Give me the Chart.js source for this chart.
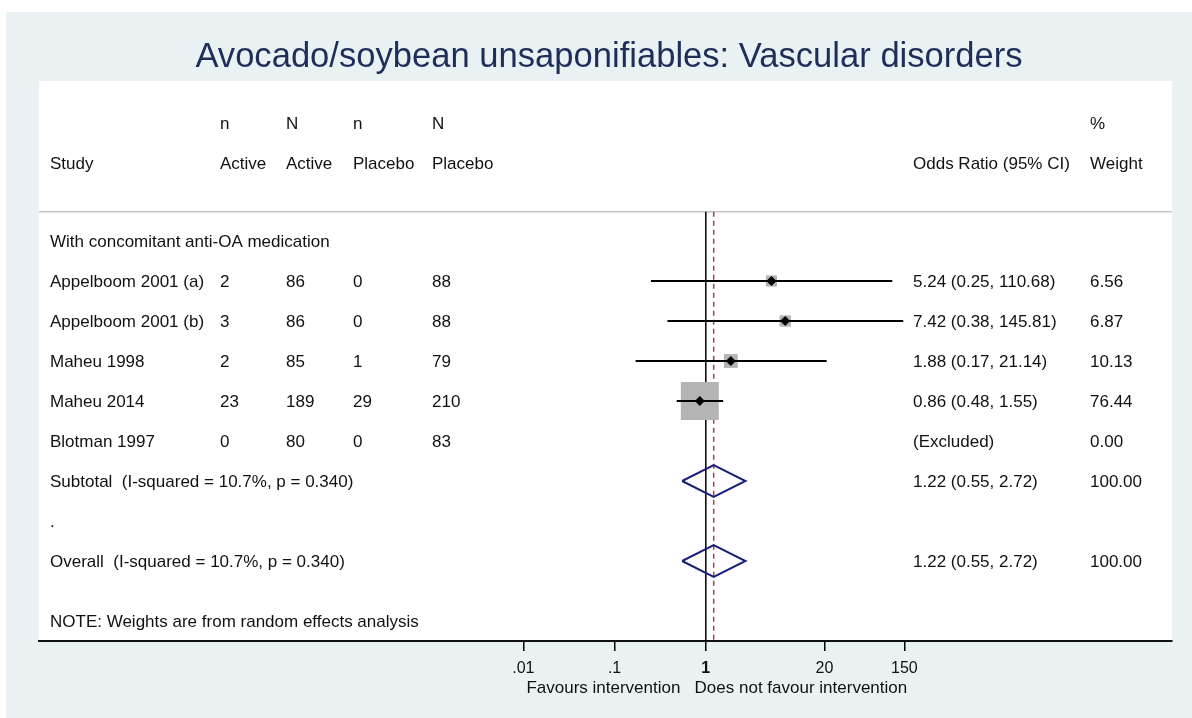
<!DOCTYPE html>
<html>
<head>
<meta charset="utf-8">
<script src="https://cdn.jsdelivr.net/npm/chart.js@4.4.1/dist/chart.umd.min.js"></script>
<style>
html, body { margin: 0; padding: 0; background: #fff; }
#wrap { width: 1192px; height: 718px; }
</style>
</head>
<body>
<div id="wrap"><canvas id="chart1"></canvas></div>
<script>
var title = "Avocado/soybean unsaponifiables: Vascular disorders";
var groupLabel = "With concomitant anti-OA medication";
var note = "NOTE: Weights are from random effects analysis";
var xTitle = "Favours intervention   Does not favour intervention";

var studies = ["Appelboom 2001 (a)", "Appelboom 2001 (b)", "Maheu 1998", "Maheu 2014", "Blotman 1997"];
var nActive = [2, 3, 2, 23, 0];
var bigNActive = [86, 86, 85, 189, 80];
var nPlacebo = [0, 0, 1, 29, 0];
var bigNPlacebo = [88, 88, 79, 210, 83];
var oddsRatio = [5.24, 7.42, 1.88, 0.86, null];
var ciLow = [0.25, 0.38, 0.17, 0.48, null];
var ciHigh = [110.68, 145.81, 21.14, 1.55, null];
var weights = [6.56, 6.87, 10.13, 76.44, 0.00];

var pooledLabels = ["Subtotal  (I-squared = 10.7%, p = 0.340)", "Overall  (I-squared = 10.7%, p = 0.340)"];
var pooledOR = [1.22, 1.22];
var pooledLow = [0.55, 0.55];
var pooledHigh = [2.72, 2.72];
var pooledWeight = [100.00, 100.00];

var tickValues = [0.01, 0.1, 1, 20, 150];
var tickLabels = [".01", ".1", "1", "20", "150"];

var headTop = ["", "n", "N", "n", "N", "", "%"];
var headBottom = ["Study", "Active", "Active", "Placebo", "Placebo", "Odds Ratio (95% CI)", "Weight"];

// row slots on the y scale (0 = top of plot panel)
var studyRows = [5, 6, 7, 8, 9];
var pooledRows = [10, 12];

var FONT = "'Liberation Sans', Arial, Helvetica, sans-serif";
var colX = [50, 220, 286, 353, 432, 913, 1090];
var diamondHalf = 0.4;
var lineTop = 3.27;

function fmt(v) { return v.toFixed(2); }

var datasets = [];

// null line and pooled estimate line
datasets.push({
    data: [{x: 1, y: lineTop}, {x: 1, y: 14}],
    showLine: true, borderColor: "#000", borderWidth: 1.5, pointRadius: 0, order: 10
});
datasets.push({
    data: [{x: pooledOR[1], y: lineTop}, {x: pooledOR[1], y: 14}],
    showLine: true, borderColor: "#a4404c", borderWidth: 1.5, borderDash: [5, 4], pointRadius: 0, order: 9
});

// weight boxes
var boxData = [];
studies.forEach(function (s, i) {
    if (oddsRatio[i] !== null) boxData.push({x: oddsRatio[i], y: studyRows[i], w: weights[i]});
});
datasets.push({
    data: boxData,
    pointStyle: "rect",
    backgroundColor: "#b4b4b4",
    borderColor: "#b4b4b4",
    borderWidth: 0,
    pointRadius: function (c) {
        var w = c.raw ? c.raw.w : 0;
        return 38 * Math.sqrt(w / weights[3]) / Math.SQRT2;
    },
    order: 8
});

// confidence intervals
studies.forEach(function (s, i) {
    if (oddsRatio[i] === null) return;
    datasets.push({
        data: [{x: ciLow[i], y: studyRows[i]}, {x: ciHigh[i], y: studyRows[i]}],
        showLine: true, borderColor: "#000", borderWidth: 2, pointRadius: 0, order: 5
    });
});

// point estimates
datasets.push({
    data: boxData.map(function (d) { return {x: d.x, y: d.y}; }),
    pointStyle: "rectRot", pointRadius: 5, backgroundColor: "#000", borderColor: "#000", borderWidth: 0, order: 1
});

// pooled diamonds
pooledRows.forEach(function (r, i) {
    datasets.push({
        data: [
            {x: pooledLow[i], y: r},
            {x: pooledOR[i], y: r - diamondHalf},
            {x: pooledHigh[i], y: r},
            {x: pooledOR[i], y: r + diamondHalf},
            {x: pooledLow[i], y: r}
        ],
        showLine: true, borderColor: "#1b1f7c", borderWidth: 2, pointRadius: 0, order: 2
    });
});

var forestPanel = {
    id: "forestPanel",
    beforeDraw: function (chart) {
        var ctx = chart.ctx, a = chart.chartArea, ys = chart.scales.y;
        ctx.save();
        ctx.fillStyle = "#fff";
        ctx.fillRect(0, 0, chart.width, chart.height);
        ctx.fillStyle = "#e9f1f3";
        ctx.fillRect(6, 12, chart.width - 6, chart.height - 12);
        ctx.fillStyle = "#fff";
        ctx.fillRect(a.left, a.top, a.right - a.left, a.bottom - a.top);
        var sy = ys.getPixelForValue(lineTop);
        ctx.strokeStyle = "#c4c4c4";
        ctx.lineWidth = 1.5;
        ctx.beginPath();
        ctx.moveTo(a.left, sy);
        ctx.lineTo(a.right, sy);
        ctx.stroke();
        ctx.restore();
    },
    afterDraw: function (chart) {
        var ctx = chart.ctx, ys = chart.scales.y, xs = chart.scales.x;
        ctx.save();
        ctx.fillStyle = "#1f2d5a";
        ctx.font = "34.6px " + FONT;
        ctx.textAlign = "center";
        ctx.textBaseline = "alphabetic";
        ctx.fillText(title, 609, 67);

        ctx.fillStyle = "#111";
        ctx.font = "17px " + FONT;
        ctx.textAlign = "left";
        function row(v) { return ys.getPixelForValue(v) + 6; }
        headTop.forEach(function (t, j) { ctx.fillText(t, colX[j], row(1.05)); });
        headBottom.forEach(function (t, j) { ctx.fillText(t, colX[j], row(2.05)); });
        ctx.fillText(groupLabel, colX[0], row(4));
        studies.forEach(function (s, i) {
            var y = row(studyRows[i]);
            ctx.fillText(s, colX[0], y);
            ctx.fillText(String(nActive[i]), colX[1], y);
            ctx.fillText(String(bigNActive[i]), colX[2], y);
            ctx.fillText(String(nPlacebo[i]), colX[3], y);
            ctx.fillText(String(bigNPlacebo[i]), colX[4], y);
            var ci = oddsRatio[i] === null ? "(Excluded)" :
                fmt(oddsRatio[i]) + " (" + fmt(ciLow[i]) + ", " + fmt(ciHigh[i]) + ")";
            ctx.fillText(ci, colX[5], y);
            ctx.fillText(fmt(weights[i]), colX[6], y);
        });
        pooledRows.forEach(function (r, i) {
            var y = row(r);
            ctx.fillText(pooledLabels[i], colX[0], y);
            ctx.fillText(fmt(pooledOR[i]) + " (" + fmt(pooledLow[i]) + ", " + fmt(pooledHigh[i]) + ")", colX[5], y);
            ctx.fillText(fmt(pooledWeight[i]), colX[6], y);
        });
        ctx.fillText(".", colX[0], row(11));
        ctx.fillText(note, colX[0], row(13.5));

        ctx.textAlign = "center";
        ctx.fillText(xTitle, xs.getPixelForValue(1) + 11, 693);
        ctx.restore();
    }
};

var myForest = new Chart(document.getElementById("chart1"), {
    type: "scatter",
    data: {datasets: datasets},
    plugins: [forestPanel],
    options: {
        responsive: true,
        maintainAspectRatio: false,
        animation: false,
        events: [],
        layout: {autoPadding: false, padding: {left: 39, right: 20, top: 81, bottom: 0}},
        plugins: {legend: {display: false}, tooltip: {enabled: false}, title: {display: false}},
        scales: {
            x: {
                type: "logarithmic",
                min: Math.pow(10, -7.309),
                max: Math.pow(10, 5.11),
                afterBuildTicks: function (s) {
                    s.ticks = tickValues.map(function (v) { return {value: v}; });
                },
                afterFit: function (s) {
                    s.height = 77;
                    s.paddingLeft = 0;
                    s.paddingRight = 0;
                },
                grid: {drawOnChartArea: false, drawTicks: true, tickLength: 10, color: "#000", lineWidth: 1.5},
                border: {display: true, color: "#111", width: 2},
                ticks: {
                    autoSkip: false,
                    maxRotation: 0,
                    padding: 8,
                    color: "#111",
                    font: function (c) {
                        var bold = c.tick && c.tick.value === 1;
                        return {family: FONT, size: 16, weight: bold ? "bold" : "normal"};
                    },
                    callback: function (v) { return tickLabels[tickValues.indexOf(v)]; }
                }
            },
            y: {type: "linear", min: 0, max: 14, reverse: true, display: false}
        }
    }
});
</script>
</body>
</html>
